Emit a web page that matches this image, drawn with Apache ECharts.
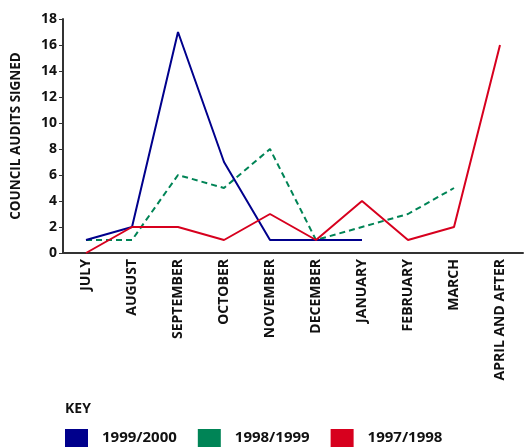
<!DOCTYPE html>
<html>
<head>
<meta charset="utf-8">
<script src="https://cdn.jsdelivr.net/npm/echarts@6/dist/echarts.min.js"></script>
<style>
  html, body { margin: 0; padding: 0; background: #fff; }
  #main { width: 524px; height: 447px; }
</style>
</head>
<body>
<div id="main"></div>
<script>
// months and audits signed per season
var months = ['JULY', 'AUGUST', 'SEPTEMBER', 'OCTOBER', 'NOVEMBER', 'DECEMBER',
    'JANUARY', 'FEBRUARY', 'MARCH', 'APRIL AND AFTER'];
var y1999 = [1, 2, 17, 7, 1, 1, 1];
var y1998 = [1, 1, 6, 5, 8, 1, 2, 3, 5];
var y1997 = [0, 2, 2, 1, 3, 1, 4, 1, 2, 16];
var seriesNames = ['1999/2000', '1998/1999', '1997/1998'];
var colors = ['#00008c', '#008456', '#d7001e'];

var font = '"Open Sans", "Liberation Sans", sans-serif';

var myChart = echarts.init(document.getElementById('main'));

var option = {
    animation: false,
    color: colors,
    grid: { left: 63, right: 1, top: 19, bottom: 194 },
    title: {
        text: 'KEY',
        left: 60,
        top: 397,
        textStyle: { fontFamily: font, fontWeight: 'bold', fontSize: 14, color: '#111' }
    },
    legend: {
        left: 65,
        top: 429,
        icon: 'rect',
        itemWidth: 23,
        itemHeight: 18,
        itemGap: 21,
        padding: 0,
        data: seriesNames,
        textStyle: { fontFamily: font, fontWeight: 'bold', fontSize: 15, color: '#111', padding: [0, 0, 0, 9] }
    },
    xAxis: {
        type: 'category',
        data: months,
        boundaryGap: true,
        axisLine: { lineStyle: { color: '#333', width: 2 } },
        axisTick: { show: false },
        axisLabel: {
            rotate: 90,
            interval: 0,
            margin: 6,
            fontFamily: font,
            fontWeight: 'bold',
            fontSize: 14,
            color: '#111'
        }
    },
    yAxis: {
        type: 'value',
        min: 0,
        max: 18,
        interval: 2,
        name: 'COUNCIL AUDITS SIGNED',
        nameLocation: 'middle',
        nameGap: 40,
        nameRotate: 90,
        nameTextStyle: { fontFamily: font, fontWeight: 'bold', fontSize: 13.5, color: '#111' },
        splitLine: { show: false },
        axisLine: { show: true, lineStyle: { color: '#333', width: 2 } },
        axisTick: { show: true, length: 4, lineStyle: { color: '#333' } },
        axisLabel: { fontFamily: font, fontWeight: 'bold', fontSize: 14, color: '#111', margin: 6 }
    },
    series: [
        {
            name: seriesNames[0], type: 'line', data: y1999, symbol: 'none',
            lineStyle: { width: 2, color: colors[0] }, z: 3
        },
        {
            name: seriesNames[1], type: 'line', data: y1998, symbol: 'none',
            lineStyle: { width: 2, color: colors[1], type: [6, 4] }, z: 2
        },
        {
            name: seriesNames[2], type: 'line', data: y1997, symbol: 'none',
            lineStyle: { width: 2, color: colors[2] }, z: 4
        }
    ]
};

myChart.setOption(option);
</script>
</body>
</html>
